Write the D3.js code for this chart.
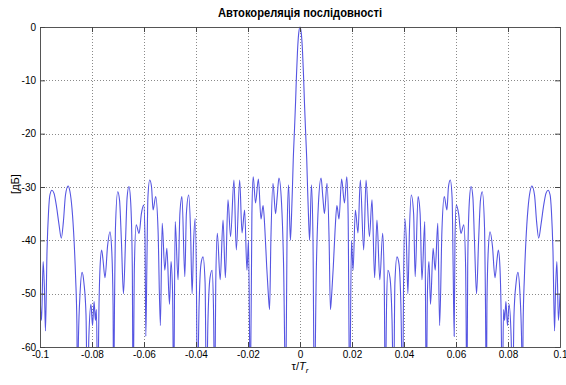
<!DOCTYPE html>
<html>
<head>
<meta charset="utf-8">
<script src="https://cdn.jsdelivr.net/npm/d3@7"></script>
<style>
  html, body { margin: 0; padding: 0; background: #fff; }
  svg { display: block; }
  text { font-family: 'Liberation Sans Narrow', 'Liberation Sans', Arial, sans-serif; fill: #000; }
</style>
</head>
<body>
<svg id="chart" width="566" height="385"></svg>
<script>
// ---- Data ----
const title = "Автокореляція послідовності";
const yLabel = "[дБ]";
const xTicks = [-0.1, -0.08, -0.06, -0.04, -0.02, 0, 0.02, 0.04, 0.06, 0.08, 0.1];
const xTickLabels = ["-0.1", "-0.08", "-0.06", "-0.04", "-0.02", "0", "0.02", "0.04", "0.06", "0.08", "0.1"];
const yTicks = [-60, -50, -40, -30, -20, -10, 0];
const yTickLabels = ["-60", "-50", "-40", "-30", "-20", "-10", "0"];

// lag τ/Tr in thousandths
const lagMilli = [
 -100.0,-99.4,-98.8,-98.3,-97.9,-97.3,-96.7,-96.2,-95.4,-94.6,-93.7,-92.7,-91.8,-91.0,-90.2,-89.2,-88.5,-87.7,-86.9,-86.3,
 -85.8,-85.6,-85.2,-84.6,-83.8,-83.1,-82.3,-81.8,-81.2,-80.4,-79.8,-79.2,-78.7,-78.3,-77.8,-77.3,-76.9,-76.3,-75.8,-75.0,
 -74.0,-73.1,-72.4,-71.9,-71.7,-71.3,-71.0,-70.1,-69.4,-68.7,-67.9,-67.1,-66.5,-65.8,-65.1,-64.5,-64.2,-63.7,-63.0,-61.9,
 -61.0,-60.1,-59.6,-59.3,-58.9,-58.5,-57.8,-57.1,-56.5,-55.5,-54.6,-53.7,-53.0,-52.0,-51.2,-50.2,-49.6,-49.0,-48.6,-48.0,
 -46.9,-46.2,-45.4,-44.3,-43.7,-42.8,-42.1,-41.5,-40.9,-40.3,-39.8,-39.5,-38.8,-38.1,-37.3,-36.5,-36.0,-35.4,-34.6,-33.8,
 -33.3,-32.8,-32.4,-31.8,-30.7,-29.6,-28.7,-27.7,-26.7,-25.4,-24.5,-23.2,-22.3,-21.3,-20.4,-19.8,-19.1,-18.5,-18.0,-17.1,
 -16.0,-15.0,-14.2,-13.5,-12.8,-12.2,-11.7,-11.2,-10.4,-9.4,-8.8,-8.1,-7.1,-6.3,-5.5,-5.0,-4.4,-3.7,-3.3,-2.9,
 -2.6,-2.1,-1.7,-1.35,-0.96,-0.5,
 0,
 0.5,0.96,1.35,1.7,2.1,2.6,
 2.9,3.3,3.7,4.4,5.0,5.5,6.3,7.1,8.1,8.8,9.4,10.4,11.2,11.7,12.2,12.8,13.5,14.2,15.0,16.0,
 17.1,18.0,18.5,19.1,19.8,20.4,21.3,22.3,23.2,24.5,25.4,26.7,27.7,28.7,29.6,30.7,31.8,32.4,32.8,33.3,
 33.8,34.6,35.4,36.0,36.5,37.3,38.1,38.8,39.5,39.8,40.3,40.9,41.5,42.1,42.8,43.7,44.3,45.4,46.2,46.9,
 48.0,48.6,49.0,49.6,50.2,51.2,52.0,53.0,53.7,54.6,55.5,56.5,57.1,57.8,58.5,58.9,59.3,59.6,60.1,61.0,
 61.9,63.0,63.7,64.2,64.5,65.1,65.8,66.5,67.1,67.9,68.7,69.4,70.1,71.0,71.3,71.7,71.9,72.4,73.1,74.0,
 75.0,75.8,76.3,76.9,77.3,77.8,78.3,78.7,79.2,79.8,80.4,81.2,81.8,82.3,83.1,83.8,84.6,85.2,85.6,85.8,
 86.3,86.9,87.7,88.5,89.2,90.2,91.0,91.8,92.7,93.7,94.6,95.4,96.2,96.7,97.3,97.9,98.3,98.8,99.4,100.0
];
// autocorrelation level, dB (values below -60 are nulls that run off the axis)
const levelDb = [
 -50,-55,-44,-49,-57,-42,-34.5,-31.5,-30.6,-31.2,-33.5,-37,-39.6,-36.5,-31.5,-29.8,-30.8,-34,-40,-47,
 -56,-70,-58,-50,-46,-48,-54,-70,-58,-52,-56,-51.5,-55,-53,-70,-52,-45,-41.8,-43.5,-47,
 -41,-38.4,-42,-52,-70,-50,-38,-30.9,-32.5,-40,-50,-40,-32,-29.9,-33,-45,-70,-45,-37.1,-38.7,
 -35,-33.4,-40,-58,-45,-32,-28.7,-30,-34.3,-31.8,-38,-56,-36.8,-45.6,-41.5,-52,-44,-50,-70,-36.5,
 -47.4,-35,-31.8,-46.8,-35,-31.5,-38,-50,-40,-35.9,-50,-70,-52,-44.5,-43.1,-48,-70,-55,-47,-45.6,
 -52,-70,-48,-38.7,-47.4,-36.2,-47,-32.4,-39.3,-28.7,-41.8,-28.7,-38.6,-34.3,-45.6,-40,-70,-35,-28.1,-33,
 -28.5,-36,-33.5,-38,-45,-50,-53,-40,-29.3,-35,-32,-28.3,-33,-45,-70,-40,-29.6,-40,-36,-30,
 -25,-19,-14,-9,-4.5,-1.2,
 0,
 -1.2,-4.5,-9,-14,-19,-25,
 -30,-36,-40,-29.6,-40,-70,-45,-33,-28.3,-32,-35,-29.3,-40,-53,-50,-45,-38,-33.5,-36,-28.5,
 -33,-28.1,-35,-70,-40,-45.6,-34.3,-38.6,-28.7,-41.8,-28.7,-39.3,-32.4,-47,-36.2,-47.4,-38.7,-48,-70,-52,
 -45.6,-47,-55,-70,-48,-43.1,-44.5,-52,-70,-50,-35.9,-40,-50,-38,-31.5,-35,-46.8,-31.8,-35,-47.4,
 -36.5,-70,-50,-44,-52,-41.5,-45.6,-36.8,-56,-38,-31.8,-34.3,-30,-28.7,-32,-45,-58,-40,-33.4,-35,
 -38.7,-37.1,-45,-70,-45,-33,-29.9,-32,-40,-50,-40,-32.5,-30.9,-38,-50,-70,-52,-42,-38.4,-41,
 -47,-43.5,-41.8,-45,-52,-70,-53,-55,-51.5,-56,-52,-58,-70,-54,-48,-46,-50,-58,-70,-56,
 -47,-40,-34,-30.8,-29.8,-31.5,-36.5,-39.6,-37,-33.5,-31.2,-30.6,-31.5,-34.5,-42,-57,-49,-44,-55,-50
];

// ---- Chart ----
const svg = d3.select("#chart");
const pLeft = 40, pRight = 560, pTop = 27, pBottom = 347;

const x = d3.scaleLinear().domain([-0.1, 0.1]).range([pLeft, pRight]);
const y = d3.scaleLinear().domain([-60, 0]).range([pBottom, pTop]);

const points = lagMilli.map((l, i) => ({ lag: l / 1000, db: levelDb[i] }));

// grid
const grid = svg.append("g");
xTicks.slice(1, -1).forEach(t => {
  grid.append("line")
    .attr("x1", x(t) + 0.5).attr("x2", x(t) + 0.5)
    .attr("y1", pTop).attr("y2", pBottom)
    .attr("stroke", "#8a8a8a").attr("stroke-width", 1).attr("stroke-dasharray", "1,2");
});
yTicks.slice(1, -1).forEach(t => {
  grid.append("line")
    .attr("x1", pLeft).attr("x2", pRight)
    .attr("y1", Math.round(y(t)) + 0.5).attr("y2", Math.round(y(t)) + 0.5)
    .attr("stroke", "#8a8a8a").attr("stroke-width", 1).attr("stroke-dasharray", "1,2");
});

// clip
svg.append("clipPath").attr("id", "plotclip")
  .append("rect").attr("x", pLeft).attr("y", pTop - 1).attr("width", pRight - pLeft).attr("height", pBottom - pTop + 1);

// curve
const line = d3.line()
  .x(d => x(d.lag))
  .y(d => y(d.db))
  .curve(d3.curveMonotoneX);

svg.append("path")
  .datum(points)
  .attr("clip-path", "url(#plotclip)")
  .attr("fill", "none")
  .attr("stroke", "#5555e2")
  .attr("stroke-width", 1.1)
  .attr("d", line);

// axes (MATLAB style: box with inward ticks)
const fmtX = (d, i) => xTickLabels[i];
const fmtY = (d, i) => yTickLabels[i];

const gx = svg.append("g").attr("transform", `translate(0,${pBottom})`)
  .call(d3.axisBottom(x).tickValues(xTicks).tickFormat(fmtX).tickSize(-5).tickPadding(4));
const gxt = svg.append("g").attr("transform", `translate(0,${pTop})`)
  .call(d3.axisTop(x).tickValues(xTicks).tickFormat("").tickSize(-5));
const gy = svg.append("g").attr("transform", `translate(${pLeft},0)`)
  .call(d3.axisLeft(y).tickValues(yTicks).tickFormat(fmtY).tickSize(-5).tickPadding(4));
const gyr = svg.append("g").attr("transform", `translate(${pRight},0)`)
  .call(d3.axisRight(y).tickValues(yTicks).tickFormat("").tickSize(-5));

[gx, gxt, gy, gyr].forEach(g => {
  g.select(".domain").attr("stroke", "#555");
  g.selectAll(".tick line").attr("stroke", "#444");
  g.selectAll("text").attr("font-size", 10).attr("fill", "#000")
    .style("font-family", "'Liberation Sans Narrow', 'Liberation Sans', Arial, sans-serif");
});

// title
svg.append("text")
  .attr("x", 300).attr("y", 17)
  .attr("text-anchor", "middle")
  .attr("font-size", 13)
  .attr("font-weight", "bold")
  .attr("textLength", 164)
  .attr("lengthAdjust", "spacingAndGlyphs")
  .text(title);

// y label
svg.append("text")
  .attr("transform", "translate(19,184) rotate(-90)")
  .attr("text-anchor", "middle")
  .attr("font-size", 11)
  .text(yLabel);

// x label: τ/T_r
const xl = svg.append("text")
  .attr("x", 300).attr("y", 370)
  .attr("text-anchor", "middle")
  .attr("font-size", 11);
xl.append("tspan").text("τ/");
xl.append("tspan").attr("font-style", "italic").text("T");
xl.append("tspan").attr("font-size", 8).attr("font-style", "italic").attr("dy", 3).text("r");
</script>
</body>
</html>
